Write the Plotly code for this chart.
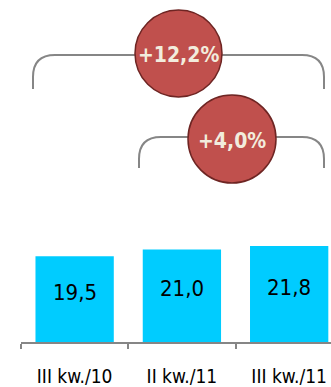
import plotly.graph_objects as go

categories = ["III kw./10", "II kw./11", "III kw./11"]
values = [19.5, 21.0, 21.8]
value_labels = ["19,5", "21,0", "21,8"]
growth_labels = ["+12,2%", "+4,0%"]

W, H = 331, 387
ML, MR, MT, MB = 21, 0, 0, 45
PW, PH = W - ML - MR, H - MT - MB

def px(x):
    return (x - ML) / PW

def py(y):
    return (H - MB - y) / PH

FONT = "DejaVu Sans Condensed, DejaVu Sans, sans-serif"

fig = go.Figure()
fig.add_trace(go.Bar(
    x=categories, y=values, marker=dict(color="#00CCFF", line=dict(width=0)),
    width=0.73, hoverinfo="skip",
))

for c, v, t in zip(categories, values, value_labels):
    fig.add_annotation(x=c, y=v / 2, text=t, showarrow=False, yshift=7,
                       xanchor="center", yanchor="middle",
                       font=dict(family=FONT, size=22, color="#000000"))

shapes = []
grey = dict(color="#868686", width=2)
def bracket(x0, x1, ytop, ybot, r=22):
    path = (f"M {px(x0)},{py(ybot)} L {px(x0)},{py(ytop + r)} "
            f"Q {px(x0)},{py(ytop)} {px(x0 + r)},{py(ytop)} "
            f"L {px(x1 - r)},{py(ytop)} Q {px(x1)},{py(ytop)} {px(x1)},{py(ytop + r)} "
            f"L {px(x1)},{py(ybot)}")
    return dict(type="path", path=path, xref="paper", yref="paper", line=grey, layer="below")

shapes.append(bracket(33, 324, 55, 89))
shapes.append(bracket(139, 324, 137, 168))

def circle(cx, cy, r):
    return dict(type="circle", xref="paper", yref="paper",
                x0=px(cx - r), x1=px(cx + r), y0=py(cy + r), y1=py(cy - r),
                fillcolor="#C0504D", line=dict(color="#6E2523", width=1.5), layer="above")

shapes.append(circle(178.5, 53.5, 43.5))
shapes.append(circle(232, 139, 44))
fig.update_layout(shapes=shapes)

for (cx, cy), t in zip([(178.5, 55), (232, 141)], growth_labels):
    fig.add_annotation(x=px(cx), y=py(cy), xref="paper", yref="paper", text=f"<b>{t}</b>",
                       xanchor="center", yanchor="middle",
                       showarrow=False, font=dict(family=FONT, size=21, color="#F2ECDD"))

fig.update_layout(
    width=W, height=H, margin=dict(l=ML, r=MR, t=MT, b=MB),
    paper_bgcolor="white", plot_bgcolor="white", showlegend=False,
    xaxis=dict(type="category", range=[-0.5, 2.39], showline=True, linecolor="#868686", linewidth=2,
               ticks="outside", tickson="boundaries", ticklen=5, tickcolor="#868686", tickwidth=2,
               showgrid=False, ticklabelstandoff=16,
               tickfont=dict(family=FONT, size=19, color="#000000")),
    yaxis=dict(range=[0, 77.7], visible=False, showgrid=False, zeroline=False),
)

fig.write_html("out.html")
